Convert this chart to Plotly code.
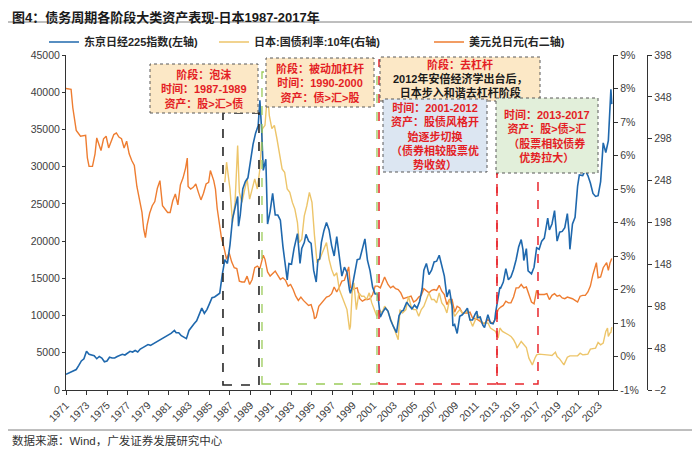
import datetime
import plotly.graph_objects as go

# ---------------- data ----------------
nk_dates = ["1971-01","1971-06","1971-10","1972-01","1972-04","1972-07","1972-10","1973-01","1973-04","1973-07","1973-10",
"1974-01","1974-04","1974-07","1974-10","1975-01","1975-04","1975-07","1975-10","1976-01","1976-04","1976-07","1976-10",
"1977-01","1977-04","1977-07","1977-10","1978-01","1978-04","1978-07","1978-10","1979-01","1979-04","1979-07","1979-10",
"1980-01","1980-04","1980-07","1980-10","1981-01","1981-04","1981-08","1981-10","1982-01","1982-04","1982-07","1982-10",
"1983-01","1983-04","1983-07","1983-10","1984-01","1984-04","1984-07","1984-10","1985-01","1985-04","1985-07","1985-10",
"1986-01","1986-04","1986-07","1986-10","1987-01","1987-04","1987-07","1987-10","1987-11","1988-01","1988-04","1988-07","1988-10",
"1989-01","1989-04","1989-07","1989-10","1989-12","1990-02","1990-04","1990-07","1990-09","1990-12","1991-03","1991-06","1991-09","1991-12",
"1992-03","1992-06","1992-08","1992-10","1993-01","1993-04","1993-08","1993-11","1994-01","1994-04","1994-06","1994-09","1994-12",
"1995-03","1995-06","1995-08","1995-10","1995-12","1996-03","1996-06","1996-09","1996-12","1997-03","1997-06","1997-09","1997-12",
"1998-03","1998-06","1998-09","1998-10","1998-12","1999-03","1999-06","1999-09","1999-12","2000-03","2000-06","2000-09","2000-12",
"2001-03","2001-06","2001-09","2001-12","2002-03","2002-06","2002-09","2002-12","2003-03","2003-04","2003-07","2003-10","2003-12",
"2004-04","2004-07","2004-10","2005-01","2005-04","2005-07","2005-10","2005-12","2006-03","2006-06","2006-09","2006-12",
"2007-03","2007-06","2007-09","2007-12","2008-03","2008-06","2008-09","2008-10","2008-12","2009-03","2009-06","2009-09","2009-12",
"2010-03","2010-06","2010-09","2010-12","2011-02","2011-03","2011-06","2011-09","2011-11","2012-03","2012-06","2012-09","2012-11","2012-12",
"2013-03","2013-05","2013-06","2013-09","2013-12","2014-03","2014-06","2014-09","2014-12","2015-03","2015-06","2015-08","2015-09","2015-12",
"2016-02","2016-06","2016-09","2016-12","2017-03","2017-06","2017-09","2017-12","2018-01","2018-03","2018-06","2018-09","2018-12",
"2019-03","2019-06","2019-09","2019-12","2020-02","2020-03","2020-06","2020-09","2020-12","2021-02","2021-06","2021-09","2021-12",
"2022-03","2022-06","2022-09","2022-12","2023-03","2023-06","2023-09","2023-12","2024-02","2024-03","2024-04"]
nk_values = [2100,2400,2600,2750,3300,3900,4200,5200,4800,4700,4600,
4200,4500,4300,3800,3900,4400,4300,4300,4500,4650,4800,4700,
5000,5200,5100,5300,5100,5500,5700,5900,6100,6000,6200,6400,
6600,6700,7000,7100,7300,7600,8000,7700,7700,7300,7100,6900,
8000,8500,8900,9300,10200,11000,10300,10800,11600,12400,12500,12800,
13000,15500,17500,17000,19500,23000,24500,26000,22000,23500,27000,28000,28500,
31000,33000,34500,35500,38900,35000,29500,31000,22300,24000,26400,23500,23500,22800,
19300,16500,14800,17000,16900,19000,21000,17000,19000,19800,20900,20000,19700,
16100,14500,17500,17600,19800,21400,22500,21500,19400,18000,20600,17800,15300,
16500,15800,13400,13000,13800,15800,17500,17600,18900,20300,17400,16000,13800,
12900,12900,9800,10500,11000,10600,9400,8600,7900,7700,10000,10600,10700,
11800,11300,10900,11400,11000,11900,13600,16100,17000,15500,16100,17200,
17300,18100,16800,15300,12500,13500,11300,8600,8800,7600,9900,10100,10500,
11000,9400,9400,10200,10600,9700,9800,8700,8400,10100,9000,8900,9400,10400,
12400,13800,13700,14500,16300,14800,15200,16200,17500,19200,20200,18900,17400,19000,
16000,15600,16500,19100,18900,20000,20400,22800,23100,21500,22300,24100,20000,
21200,21300,21800,23700,21100,18900,22300,23200,27400,28900,28800,29500,28800,
27800,26400,26000,26100,28000,33200,31900,33500,39200,40400,38400]

jgb_dates = ["1986-07","1986-09","1986-11","1987-01","1987-04","1987-07","1987-10","1987-12","1988-03","1988-06","1988-09","1988-12",
"1989-03","1989-06","1989-09","1989-12","1990-03","1990-06","1990-09","1990-11","1991-02","1991-05","1991-08","1991-11",
"1992-02","1992-05","1992-08","1992-11","1993-02","1993-05","1993-08","1993-10","1994-01","1994-04","1994-07","1994-10",
"1995-01","1995-04","1995-07","1995-10","1996-01","1996-04","1996-06","1996-09","1996-12","1997-03","1997-06","1997-09","1997-12",
"1998-03","1998-06","1998-09","1998-10","1998-12","1999-02","1999-05","1999-08","1999-11","2000-02","2000-05","2000-08","2000-11",
"2001-02","2001-05","2001-08","2001-11","2002-02","2002-05","2002-08","2002-11","2003-03","2003-06","2003-08","2003-11",
"2004-03","2004-06","2004-09","2004-12","2005-03","2005-06","2005-09","2005-12","2006-03","2006-06","2006-09","2006-12",
"2007-03","2007-06","2007-09","2007-12","2008-03","2008-06","2008-09","2008-12","2009-03","2009-06","2009-09","2009-12",
"2010-03","2010-06","2010-09","2010-12","2011-03","2011-06","2011-09","2011-12","2012-03","2012-06","2012-09","2012-12",
"2013-03","2013-05","2013-08","2013-12","2014-03","2014-06","2014-09","2014-12","2015-01","2015-06","2015-09","2015-12",
"2016-03","2016-07","2016-10","2016-12","2017-03","2017-06","2017-09","2017-12","2018-03","2018-06","2018-10","2018-12",
"2019-03","2019-08","2019-12","2020-03","2020-06","2020-09","2020-12","2021-03","2021-06","2021-09","2021-12",
"2022-03","2022-06","2022-09","2022-12","2023-03","2023-06","2023-09","2023-11","2023-12","2024-02","2024-03","2024-04"]
jgb_values = [5.2,5.8,5.4,5.0,4.0,4.6,6.3,4.9,4.6,5.0,5.3,4.7,
5.0,5.3,5.0,5.6,6.8,6.9,7.9,7.2,6.8,6.9,6.5,6.0,
5.6,5.5,5.0,4.9,4.6,4.4,4.0,3.4,3.5,4.2,4.5,4.9,
4.6,3.6,2.8,2.9,3.1,3.3,3.4,2.9,2.6,2.4,2.5,2.0,1.8,
1.6,1.4,0.8,0.9,1.9,2.2,1.4,1.9,1.8,1.8,1.7,1.9,1.6,
1.4,1.2,1.4,1.3,1.5,1.4,1.2,1.0,0.7,0.5,1.4,1.3,
1.4,1.8,1.5,1.4,1.4,1.2,1.4,1.5,1.7,1.9,1.7,1.7,
1.6,1.9,1.6,1.5,1.3,1.7,1.5,1.2,1.3,1.4,1.3,1.3,
1.4,1.1,0.9,1.1,1.25,1.1,1.0,1.0,1.0,0.85,0.8,0.75,
0.55,0.85,0.75,0.7,0.65,0.6,0.5,0.35,0.25,0.45,0.35,0.27,
-0.05,-0.25,-0.05,0.05,0.07,0.07,0.05,0.05,0.04,0.03,0.13,0.0,
-0.07,-0.25,-0.02,0.02,0.02,0.02,0.02,0.1,0.05,0.06,0.07,
0.22,0.23,0.25,0.42,0.35,0.4,0.75,0.85,0.6,0.7,0.72,0.88]

fx_dates = ["1971-01","1971-07","1971-09","1971-12","1972-01","1972-06","1972-12","1973-02","1973-04","1973-08","1973-11",
"1974-01","1974-06","1974-09","1974-12","1975-03","1975-06","1975-09","1975-12","1976-03","1976-06","1976-09","1976-12",
"1977-03","1977-06","1977-09","1977-12","1978-03","1978-06","1978-08","1978-10","1978-12","1979-03","1979-06","1979-09","1979-12",
"1980-03","1980-06","1980-09","1980-12","1981-03","1981-06","1981-09","1981-12","1982-03","1982-06","1982-09","1982-11","1982-12",
"1983-03","1983-06","1983-09","1983-12","1984-03","1984-06","1984-09","1984-12","1985-02","1985-06","1985-08","1985-10","1985-12",
"1986-03","1986-06","1986-09","1986-12","1987-03","1987-06","1987-09","1987-12","1988-03","1988-06","1988-09","1988-12",
"1989-03","1989-06","1989-09","1989-12","1990-03","1990-04","1990-06","1990-09","1990-12","1991-03","1991-06","1991-09","1991-12",
"1992-03","1992-06","1992-09","1992-12","1993-03","1993-06","1993-09","1993-12","1994-03","1994-06","1994-09","1994-12",
"1995-03","1995-04","1995-06","1995-09","1995-12","1996-03","1996-06","1996-09","1996-12","1997-03","1997-06","1997-09","1997-12",
"1998-03","1998-06","1998-08","1998-10","1998-12","1999-03","1999-06","1999-09","1999-12","2000-03","2000-06","2000-09","2000-12",
"2001-03","2001-06","2001-09","2001-12","2002-02","2002-06","2002-09","2002-12","2003-03","2003-06","2003-09","2003-12",
"2004-03","2004-06","2004-09","2004-12","2005-03","2005-06","2005-09","2005-12","2006-03","2006-06","2006-09","2006-12",
"2007-03","2007-06","2007-09","2007-12","2008-03","2008-06","2008-09","2008-12","2009-03","2009-06","2009-09","2009-12",
"2010-03","2010-06","2010-09","2010-12","2011-03","2011-06","2011-09","2011-12","2012-03","2012-06","2012-09","2012-12",
"2013-03","2013-06","2013-09","2013-12","2014-03","2014-06","2014-09","2014-12","2015-03","2015-06","2015-09","2015-12",
"2016-03","2016-06","2016-09","2016-12","2017-03","2017-06","2017-09","2017-12","2018-03","2018-06","2018-09","2018-12",
"2019-03","2019-06","2019-09","2019-12","2020-03","2020-06","2020-09","2020-12","2021-03","2021-06","2021-09","2021-12",
"2022-03","2022-06","2022-10","2022-12","2023-03","2023-06","2023-10","2023-12","2024-02","2024-04"]
fx_values = [358,357,335,315,308,301,302,275,265,265,280,
299,284,298,301,287,295,303,305,300,298,287,295,
280,272,266,241,225,210,190,180,195,209,218,223,239,
248,218,214,210,210,224,232,219,243,251,263,275,241,
238,240,244,234,225,233,244,246,260,248,238,215,203,
180,168,154,162,151,144,143,128,127,127,134,124,
130,144,146,143,153,159,154,139,134,137,140,135,130,
132,129,122,124,118,110,105,109,105,102,99,100,
90,83,85,98,102,105,109,110,113,121,115,121,128,
129,140,145,121,118,119,120,107,104,106,106,107,112,
122,122,120,127,133,124,120,122,119,118,114,107,
108,109,110,103,105,109,111,119,117,114,117,118,
117,123,116,112,100,106,106,91,98,96,90,90,
90,91,84,83,82,80,77,78,82,79,78,84,
94,97,99,104,102,102,109,120,120,124,120,121,
113,103,101,117,112,112,112,113,106,111,113,110,
111,108,107,109,108,107,105,103,110,111,111,115,
122,136,150,132,133,144,150,141,150,155]

year_ticks = list(range(1971, 2024, 2))
tick_dates = [f"{y}-01-01" for y in year_ticks]
tick_text = [str(y) for y in year_ticks]

pct_ticks = list(range(-1, 10))
pct_text = [f"{v}%" for v in pct_ticks]
fx_ticks = list(range(-2, 399, 50))
nk_ticks = list(range(0, 45001, 5000))
nk_text = [str(v) for v in nk_ticks]

name_nk = "东京日经225指数(左轴)"
name_jgb = "日本:国债利率:10年(右轴)"
name_fx = "美元兑日元(右二轴)"

# ---------------- layout geometry ----------------
# The page puts the figure 8px in from the top-left corner, so the figure is
# 8px smaller and reference pixel positions are shifted by OFF.
OFF = 8
W, H = 700 - OFF, 452 - OFF
ML, MR, MT, MB = 58, 48, 47, 62
PW = W - ML - MR
PH = H - MT - MB
PLOT_BOTTOM = H - MB

def px(xr):
    return (xr - OFF - ML) / PW

def py(yr_):
    return (PLOT_BOTTOM - (yr_ - OFF)) / PH

def cx(xr):
    return (xr - OFF) / W

def cy(yr_):
    return 1 - (yr_ - OFF) / H

T0 = datetime.datetime(1971, 1, 1)
T1 = datetime.datetime(2024, 5, 15)

def xdate(xr):
    frac = (xr - 66) / (613 - 66)
    return (T0 + (T1 - T0) * frac).strftime("%Y-%m-%d")

FONT = "Liberation Sans, Arial, Noto Sans CJK SC"
CJK = "Liberation Sans, Noto Sans CJK SC"

fig = go.Figure()
fig.add_trace(go.Scatter(x=fx_dates, y=fx_values, name="<b>" + name_fx + "</b>", mode="lines",
                         line=dict(color="#EE7D31", width=1.4), yaxis="y", legend="legend3"))
fig.add_trace(go.Scatter(x=jgb_dates, y=jgb_values, name="<b>" + name_jgb + "</b>", mode="lines",
                         line=dict(color="#EDC56A", width=1.4), yaxis="y2", legend="legend2"))
fig.add_trace(go.Scatter(x=nk_dates, y=nk_values, name="<b>" + name_nk + "</b>", mode="lines",
                         line=dict(color="#1F68AD", width=1.6), yaxis="y3", legend="legend"))

tickfont = dict(family=FONT, size=10.5, color="#404040")

# legend text starts about 36px right of the legend's x
legend_common = dict(orientation="h", yanchor="middle", xanchor="left", bgcolor="rgba(0,0,0,0)",
                     xref="container", yref="container",
                     font=dict(family=CJK, size=11, color="#262626"), y=cy(42))

fig.update_layout(
    width=W, height=H,
    margin=dict(l=ML, r=MR, t=MT, b=MB, autoexpand=False),
    paper_bgcolor="white", plot_bgcolor="white",
    showlegend=True,
    legend=dict(legend_common, x=cx(80 - 36)),
    legend2=dict(legend_common, x=cx(250 - 36)),
    legend3=dict(legend_common, x=cx(465 - 36)),
    xaxis=dict(type="date", domain=[0, (613 - 66) / PW], range=["1971-01-01", "2024-05-15"],
               tickvals=tick_dates, ticktext=tick_text, tickangle=-45, tickfont=tickfont,
               ticks="outside", ticklen=4, tickcolor="#333", showline=True, linecolor="#333", linewidth=1,
               showgrid=False, zeroline=False),
    yaxis=dict(range=[-2, 398], tickvals=fx_ticks, side="right", anchor="free", position=px(647),
               showline=True, linecolor="#333", linewidth=1.2, ticks="outside", ticklen=4, tickcolor="#333",
               tickfont=tickfont, showgrid=False, zeroline=False),
    yaxis2=dict(range=[-1, 9], tickvals=pct_ticks, ticktext=pct_text, side="right", anchor="x",
                overlaying="y", showline=True, linecolor="#222", linewidth=1.2, ticks="outside", ticklen=4,
                tickcolor="#333", tickfont=tickfont, showgrid=False, zeroline=False),
    yaxis3=dict(range=[0, 45000], tickvals=nk_ticks, ticktext=nk_text, side="left", anchor="x", overlaying="y",
                showline=True, linecolor="#333", linewidth=1, ticks="outside", ticklen=3, tickcolor="#333",
                tickfont=tickfont, showgrid=False, zeroline=False),
)

shapes = []
# title & footer rules
shapes.append(dict(type="line", xref="paper", yref="paper", x0=px(8), x1=px(692), y0=py(22), y1=py(22),
                   line=dict(color="#7F7F7F", width=1)))
shapes.append(dict(type="line", xref="paper", yref="paper", x0=px(8), x1=px(692), y0=py(430), y1=py(430),
                   line=dict(color="#7F7F7F", width=1)))

# period rectangles
shapes.append(dict(type="rect", xref="x", yref="paper", x0=xdate(223), x1=xdate(259), y0=py(385), y1=py(113),
                   line=dict(color="#262626", width=1.6, dash="dash"), layer="above"))
shapes.append(dict(type="rect", xref="x", yref="paper", x0=xdate(262), x1=xdate(377), y0=py(384), y1=py(72),
                   line=dict(color="#9BCB5A", width=1.3, dash="dash"), layer="above"))
shapes.append(dict(type="rect", xref="x", yref="paper", x0=xdate(379), x1=xdate(497), y0=py(384), y1=py(60),
                   line=dict(color="#E8262D", width=1.5, dash="dash"), layer="above"))
shapes.append(dict(type="rect", xref="x", yref="paper", x0=xdate(497), x1=xdate(538), y0=py(384), y1=py(172),
                   line=dict(color="#E8262D", width=1.5, dash="dash"), layer="above"))

# text boxes
boxes = [
    (150, 258, 64, 113, "#FCE8C6"),
    (266, 374, 58, 107, "#FCE8C6"),
    (380, 540, 57, 101, "#FCE8C6"),
    (383, 487, 99, 172, "#DCE6F2"),
    (496, 598, 98, 173, "#E2EFDA"),
]
for x0, x1, y0, y1, fc in boxes:
    shapes.append(dict(type="rect", xref="paper", yref="paper", x0=px(x0), x1=px(x1), y0=py(y1), y1=py(y0),
                       fillcolor=fc, line=dict(color="#595959", width=1, dash="dot"), layer="above"))

fig.update_layout(shapes=shapes)

RED = "#E41E25"
anns = []
def box_text(xc, yc, text, color=RED, size=11):
    anns.append(dict(xref="paper", yref="paper", x=px(xc), y=py(yc), text=text, showarrow=False,
                     xanchor="center", yanchor="middle", align="center",
                     font=dict(family=CJK, size=size, color=color)))

box_text(204, 88.5, "<b>阶段：泡沫<br>时间：1987-1989<br>资产：股>汇>债</b>")
box_text(320, 82.5, "<b>阶段：被动加杠杆<br>时间：1990-2000<br>资产：债>汇>股</b>")
box_text(460, 65, "<b>阶段：去杠杆</b>")
box_text(460, 86, "<b>2012年安倍经济学出台后，<br>日本步入和谐去杠杆阶段</b>", color="#1A1A1A")
box_text(435, 135.5, "<b>时间：2001-2012<br>资产：股债风格开<br>始逐步切换<br>（债券相较股票优<br>势收敛）</b>")
box_text(547, 135.5, "<b>时间：2013-2017<br>资产：股>债>汇<br>（股票相较债券<br>优势拉大）</b>")

# title and source
anns.append(dict(xref="paper", yref="paper", x=px(10), y=py(8), xanchor="left", yanchor="top",
                 text="<b>图4：债务周期各阶段大类资产表现-日本1987-2017年</b>", showarrow=False,
                 font=dict(family=CJK, size=13, color="#1A1A1A")))
anns.append(dict(xref="paper", yref="paper", x=px(10), y=py(441), xanchor="left", yanchor="middle",
                 text="数据来源：Wind，广发证券发展研究中心", showarrow=False,
                 font=dict(family=CJK, size=11.5, color="#333333")))
fig.update_layout(annotations=anns)

fig.write_html("out.html")
